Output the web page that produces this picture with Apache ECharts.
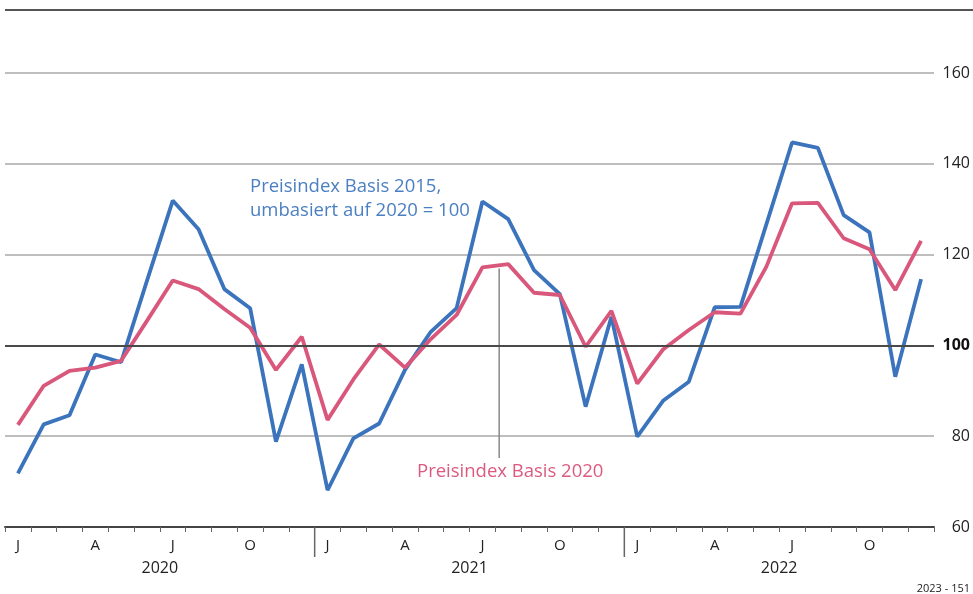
<!DOCTYPE html>
<html>
<head>
<meta charset="utf-8">
<script src="https://cdn.jsdelivr.net/npm/echarts@6/dist/echarts.min.js"></script>
<style>
body{margin:0;background:#fff}
#chart{width:973px;height:594px}
</style>
</head>
<body>
<div id="chart"></div>
<script>
// Monate 2020-2022
var monate = ['J','F','M','A','M','J','J','A','S','O','N','D',
              'J','F','M','A','M','J','J','A','S','O','N','D',
              'J','F','M','A','M','J','J','A','S','O','N','D']
var jahre = ['2020','2021','2022']
var yTicks = [60,80,100,120,140,160]

// Preisindex Basis 2015, umbasiert auf 2020 = 100
var basis2015 = [71.8,82.6,84.6,98.0,96.3,114.2,131.9,125.6,112.4,108.2,78.8,95.8,
                 68.1,79.5,82.8,94.6,103.0,108.2,131.7,127.8,116.6,111.3,86.5,106.3,
                 79.9,87.8,92.0,108.4,108.5,126.6,144.7,143.5,128.7,124.9,93.1,114.6]
// Preisindex Basis 2020
var basis2020 = [82.5,91.1,94.4,95.1,96.6,105.4,114.3,112.4,108.0,103.9,94.6,101.9,
                 83.6,92.5,100.2,95.1,101.4,106.7,117.2,117.9,111.6,111.1,99.7,107.6,
                 91.6,99.1,103.4,107.3,107.0,117.3,131.3,131.4,123.6,121.2,112.2,123.0]

var blau = '#3b74bc'
var rot = '#d9577b'
var schrift = '"Open Sans", sans-serif'

var myChart = echarts.init(document.getElementById('chart'))
myChart.setOption({
  animation:false,
  grid:{left:5, right:37, top:73, bottom:67},
  xAxis:[
    {
      type:'category',
      data:monate,
      boundaryGap:true,
      axisLine:{lineStyle:{color:'#444', width:2}},
      axisTick:{show:true, interval:0, length:5, lineStyle:{color:'#666'}},
      axisLabel:{
        interval:0, margin:11, color:'#222', fontSize:15, fontFamily:schrift,
        formatter:function(v, i){ return (i % 3 == 0) ? v : '' }
      },
      splitLine:{show:false}
    },
    {
      type:'category',
      data:jahre,
      position:'bottom',
      boundaryGap:true,
      axisLine:{show:false},
      axisTick:{show:false},
      axisLabel:{margin:33, color:'#222', fontSize:16, fontFamily:schrift}
    }
  ],
  yAxis:{
    type:'value',
    position:'right',
    min:yTicks[0],
    max:yTicks[yTicks.length-1],
    interval:20,
    axisLine:{show:false},
    axisTick:{show:false},
    splitLine:{lineStyle:{color:'#a8a8a8', width:1.5}},
    axisLabel:{
      align:'right', margin:36, color:'#222', fontSize:16, fontFamily:schrift,
      formatter:function(v){ return v == 100 ? '{b|100}' : v },
      rich:{b:{fontWeight:'bold', fontSize:16, color:'#111', fontFamily:schrift}}
    }
  },
  series:[
    {
      name:'Preisindex Basis 2020',
      type:'line',
      data:basis2020,
      symbol:'none',
      lineStyle:{color:rot, width:3.8},
      z:3,
      markLine:{
        silent:true, symbol:'none', label:{show:false},
        lineStyle:{color:'#4a4a4a', width:2, type:'solid'},
        data:[{yAxis:100}]
      }
    },
    {
      name:'Preisindex Basis 2015, umbasiert auf 2020 = 100',
      type:'line',
      data:basis2015,
      symbol:'none',
      lineStyle:{color:blau, width:3.8},
      z:2
    }
  ]
})

// Jahrestrenner und Beschriftungen
var x11 = myChart.convertToPixel({xAxisIndex:0}, 11)
var x12 = myChart.convertToPixel({xAxisIndex:0}, 12)
var x23 = myChart.convertToPixel({xAxisIndex:0}, 23)
var x24 = myChart.convertToPixel({xAxisIndex:0}, 24)
var yAchse = myChart.convertToPixel({yAxisIndex:0}, 60)
var x18 = myChart.convertToPixel({xAxisIndex:0}, 18)
var x19 = myChart.convertToPixel({xAxisIndex:0}, 19)
var yZeiger = myChart.convertToPixel({yAxisIndex:0}, 117.6)
var xZeiger = x18 + (x19 - x18) * 0.65

myChart.setOption({
  graphic:[
    {type:'line', shape:{x1:5, y1:10, x2:973, y2:10}, style:{stroke:'#555', lineWidth:2}},
    {type:'line', shape:{x1:(x11+x12)/2, y1:yAchse, x2:(x11+x12)/2, y2:yAchse+30}, style:{stroke:'#666', lineWidth:1.5}},
    {type:'line', shape:{x1:(x23+x24)/2, y1:yAchse, x2:(x23+x24)/2, y2:yAchse+30}, style:{stroke:'#666', lineWidth:1.5}},
    {type:'line', z:1, shape:{x1:xZeiger, y1:yZeiger+3, x2:xZeiger, y2:458}, style:{stroke:'#888', lineWidth:1.5}},
    {type:'text', left:250, top:175, style:{text:'Preisindex Basis 2015,\numbasiert auf 2020 = 100', fill:'#4a7fc2', font:'18.5px '+schrift, lineHeight:24}},
    {type:'text', left:417, top:462, style:{text:'Preisindex Basis 2020', fill:'#dc5a80', font:'18.5px '+schrift}},
    {type:'text', right:3, top:583, style:{text:'2023 - 151', fill:'#222', font:'11px '+schrift}}
  ]
})
</script>
</body>
</html>
